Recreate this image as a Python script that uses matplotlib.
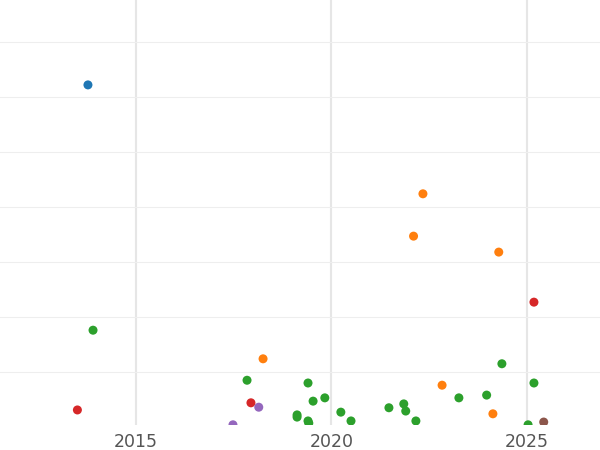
import matplotlib
matplotlib.use("Agg")
import matplotlib.pyplot as plt

# values (x = year, y = arbitrary units, gridlines at 1..7)
years = [2013.77, 2013.9, 2013.5, 2022.34, 2022.1, 2024.28, 2025.18, 2018.25, 2024.36,
         2017.84, 2019.4, 2025.18, 2022.83, 2023.97, 2023.26, 2019.83, 2019.53, 2017.94,
         2021.85, 2018.14, 2021.47, 2021.9, 2020.24, 2024.13, 2019.12, 2019.12, 2020.5,
         2022.16, 2019.4, 2019.42, 2025.43, 2017.48, 2025.03]
values = [6.22, 1.76, 0.31, 4.24, 3.47, 3.18, 2.27, 1.24, 1.15,
          0.85, 0.80, 0.80, 0.76, 0.58, 0.53, 0.53, 0.47, 0.44,
          0.42, 0.36, 0.35, 0.29, 0.27, 0.24, 0.22, 0.18, 0.11,
          0.11, 0.11, 0.07, 0.09, 0.04, 0.04]
groups = ["blue", "green", "red", "orange", "orange", "orange", "red", "orange", "green",
          "green", "green", "green", "orange", "green", "green", "green", "green", "red",
          "green", "purple", "green", "green", "green", "orange", "green", "green", "green",
          "green", "green", "green", "brown", "purple", "green"]

palette = {"blue": "#1f77b4", "orange": "#ff7f0e", "green": "#2ca02c",
           "red": "#d62728", "purple": "#9467bd", "brown": "#8c564b"}

fig = plt.figure(figsize=(6, 4.5), dpi=100)
ax = fig.add_axes([0, 25 / 450, 1, 425 / 450])

ax.scatter(years, values, c=[palette[g] for g in groups], s=42, zorder=3, linewidths=0)

ax.set_xlim(2011.52, 2026.87)
ax.set_ylim(1 - 53 / 55, 7 + 42 / 55)
ax.set_xticks([2015, 2020, 2025])
ax.set_yticks(range(1, 8))
ax.set_yticklabels([])
ax.grid(axis="x", color="#e6e6e6", linewidth=1.5)
ax.grid(axis="y", color="#eeeeee", linewidth=0.8)
ax.tick_params(length=0, labelsize=12.5, colors="#555555", pad=6)
for s in ax.spines.values():
    s.set_visible(False)

fig.savefig("out.png", dpi=100)
